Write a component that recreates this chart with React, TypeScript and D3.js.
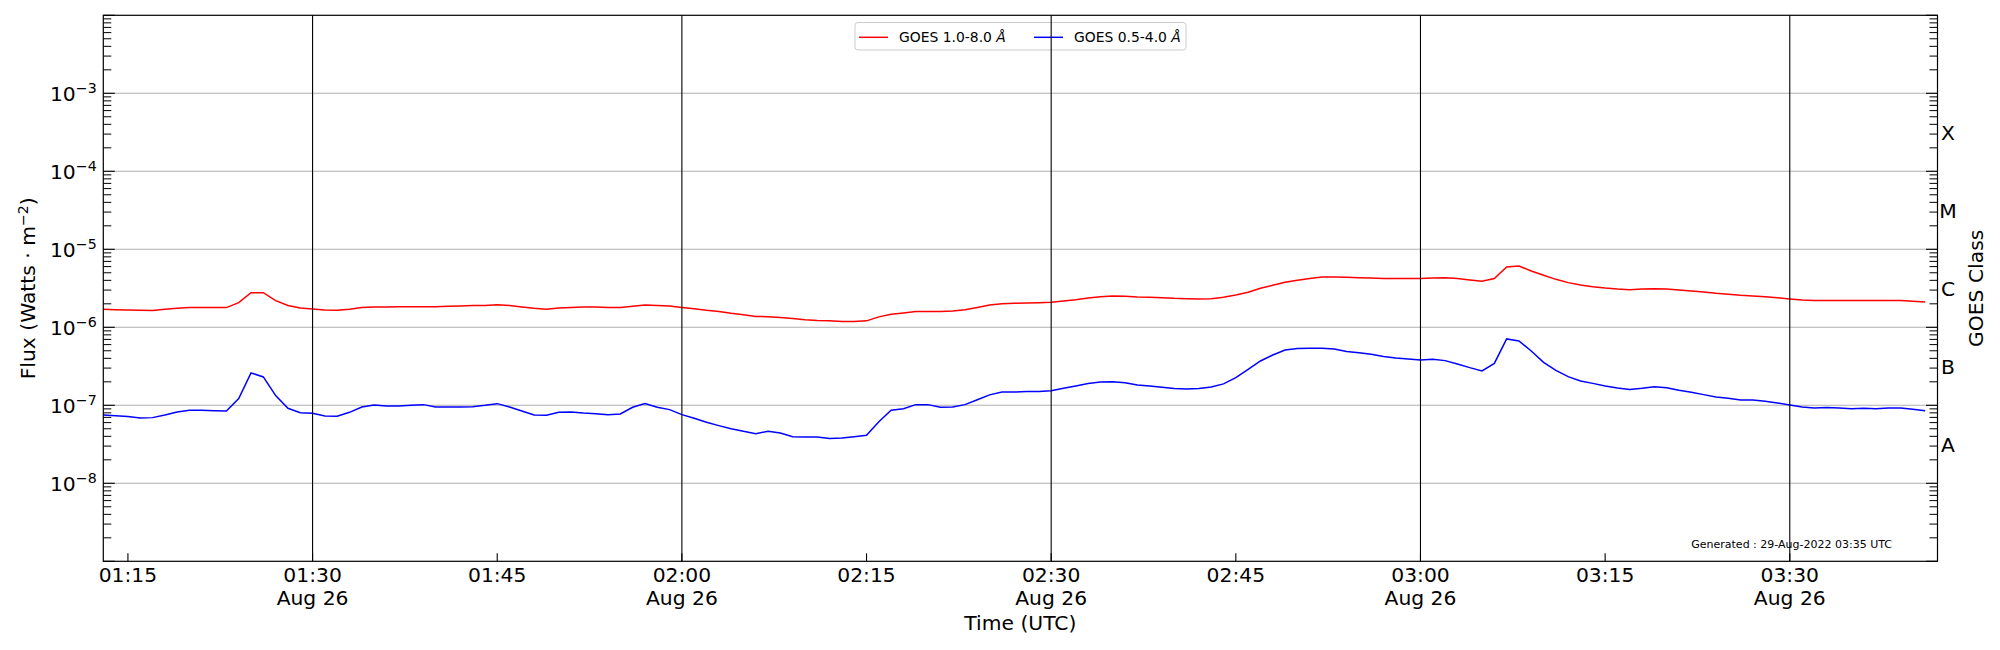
import * as d3 from 'd3';

// GOES XRS flux, 1-minute samples from 01:13 to 03:41 UTC, 26 Aug 2022
const START = Date.UTC(2022, 7, 26, 1, 13);
const X_END = Date.UTC(2022, 7, 26, 3, 42);

// GOES 1.0-8.0 Å (W/m^2)
const xrsLong = [
  1.70e-6, 1.68e-6, 1.67e-6, 1.65e-6, 1.64e-6, 1.70e-6, 1.75e-6, 1.79e-6, 1.79e-6, 1.79e-6,
  1.79e-6, 2.07e-6, 2.78e-6, 2.78e-6, 2.20e-6, 1.90e-6, 1.77e-6, 1.72e-6, 1.67e-6, 1.65e-6,
  1.70e-6, 1.79e-6, 1.82e-6, 1.82e-6, 1.84e-6, 1.84e-6, 1.84e-6, 1.84e-6, 1.86e-6, 1.88e-6,
  1.90e-6, 1.91e-6, 1.95e-6, 1.90e-6, 1.82e-6, 1.75e-6, 1.70e-6, 1.77e-6, 1.80e-6, 1.82e-6,
  1.82e-6, 1.80e-6, 1.79e-6, 1.86e-6, 1.93e-6, 1.91e-6, 1.88e-6, 1.80e-6, 1.73e-6, 1.65e-6,
  1.59e-6, 1.51e-6, 1.45e-6, 1.38e-6, 1.37e-6, 1.34e-6, 1.30e-6, 1.25e-6, 1.22e-6, 1.21e-6,
  1.19e-6, 1.19e-6, 1.21e-6, 1.36e-6, 1.47e-6, 1.53e-6, 1.59e-6, 1.60e-6, 1.60e-6, 1.62e-6,
  1.68e-6, 1.80e-6, 1.93e-6, 2.01e-6, 2.03e-6, 2.05e-6, 2.07e-6, 2.09e-6, 2.18e-6, 2.26e-6,
  2.38e-6, 2.47e-6, 2.52e-6, 2.50e-6, 2.45e-6, 2.43e-6, 2.40e-6, 2.35e-6, 2.33e-6, 2.31e-6,
  2.33e-6, 2.43e-6, 2.60e-6, 2.81e-6, 3.16e-6, 3.45e-6, 3.77e-6, 4.00e-6, 4.21e-6, 4.42e-6,
  4.42e-6, 4.38e-6, 4.33e-6, 4.29e-6, 4.21e-6, 4.21e-6, 4.21e-6, 4.21e-6, 4.29e-6, 4.33e-6,
  4.21e-6, 4.04e-6, 3.89e-6, 4.21e-6, 5.94e-6, 6.11e-6, 5.27e-6, 4.64e-6, 4.12e-6, 3.74e-6,
  3.49e-6, 3.32e-6, 3.19e-6, 3.10e-6, 3.04e-6, 3.10e-6, 3.13e-6, 3.10e-6, 3.01e-6, 2.92e-6,
  2.84e-6, 2.73e-6, 2.65e-6, 2.57e-6, 2.52e-6, 2.47e-6, 2.40e-6, 2.31e-6, 2.24e-6, 2.20e-6,
  2.20e-6, 2.20e-6, 2.20e-6, 2.20e-6, 2.20e-6, 2.20e-6, 2.20e-6, 2.15e-6, 2.11e-6,
];

// GOES 0.5-4.0 Å (W/m^2)
const xrsShort = [
  7.52e-8, 7.37e-8, 7.16e-8, 6.88e-8, 6.95e-8, 7.52e-8, 8.21e-8, 8.63e-8, 8.63e-8, 8.54e-8,
  8.46e-8, 1.22e-7, 2.60e-7, 2.31e-7, 1.33e-7, 9.15e-8, 8.05e-8, 7.90e-8, 7.30e-8, 7.23e-8,
  8.13e-8, 9.52e-8, 1.01e-7, 9.80e-8, 9.80e-8, 1.00e-7, 1.02e-7, 9.52e-8, 9.52e-8, 9.52e-8,
  9.61e-8, 1.00e-7, 1.05e-7, 9.52e-8, 8.46e-8, 7.52e-8, 7.44e-8, 8.13e-8, 8.21e-8, 7.97e-8,
  7.82e-8, 7.59e-8, 7.74e-8, 9.43e-8, 1.05e-7, 9.43e-8, 8.80e-8, 7.59e-8, 6.81e-8, 6.05e-8,
  5.49e-8, 5.02e-8, 4.64e-8, 4.33e-8, 4.64e-8, 4.42e-8, 3.96e-8, 3.93e-8, 3.93e-8, 3.74e-8,
  3.81e-8, 3.96e-8, 4.12e-8, 6.17e-8, 8.63e-8, 9.06e-8, 1.02e-7, 1.02e-7, 9.43e-8, 9.52e-8,
  1.02e-7, 1.18e-7, 1.36e-7, 1.48e-7, 1.48e-7, 1.50e-7, 1.50e-7, 1.54e-7, 1.65e-7, 1.77e-7,
  1.90e-7, 1.99e-7, 2.01e-7, 1.95e-7, 1.82e-7, 1.77e-7, 1.70e-7, 1.64e-7, 1.62e-7, 1.64e-7,
  1.72e-7, 1.88e-7, 2.26e-7, 2.89e-7, 3.70e-7, 4.42e-7, 5.12e-7, 5.33e-7, 5.38e-7, 5.38e-7,
  5.27e-7, 4.88e-7, 4.73e-7, 4.51e-7, 4.21e-7, 4.04e-7, 3.93e-7, 3.81e-7, 3.89e-7, 3.74e-7,
  3.39e-7, 3.04e-7, 2.76e-7, 3.45e-7, 7.09e-7, 6.68e-7, 4.97e-7, 3.56e-7, 2.81e-7, 2.33e-7,
  2.05e-7, 1.91e-7, 1.77e-7, 1.67e-7, 1.60e-7, 1.65e-7, 1.73e-7, 1.68e-7, 1.56e-7, 1.47e-7,
  1.37e-7, 1.28e-7, 1.23e-7, 1.17e-7, 1.17e-7, 1.13e-7, 1.07e-7, 1.01e-7, 9.52e-8, 9.24e-8,
  9.34e-8, 9.24e-8, 9.06e-8, 9.15e-8, 9.06e-8, 9.24e-8, 9.24e-8, 8.89e-8, 8.54e-8,
];

const tickTimes = ['01:15', '01:30', '01:45', '02:00', '02:15', '02:30', '02:45', '03:00', '03:15', '03:30'];
const tickDates = ['', 'Aug 26', '', 'Aug 26', '', 'Aug 26', '', 'Aug 26', '', 'Aug 26'];

const decadeExps = [-9, -8, -7, -6, -5, -4, -3, -2];
const labelExps = [-8, -7, -6, -5, -4, -3];

const classLabels = ['A', 'B', 'C', 'M', 'X'];
const classCenters = [3.16e-8, 3.16e-7, 3.16e-6, 3.16e-5, 3.16e-4];

const seriesNames = ['GOES 1.0-8.0 ', 'GOES 0.5-4.0 '];
const seriesColors = ['#ff0000', '#0000ff'];

const W = 2000;
const H = 650;
const L = 103.3;
const R = 1937.5;
const T = 15.3;
const B = 561.3;
const FONT = '"DejaVu Sans", sans-serif';

export default function App() {
  const x = d3.scaleUtc().domain([new Date(START), new Date(X_END)]).range([L, R]);
  const y = d3.scaleLog().domain([1e-9, 1e-2]).range([B, T]);

  const times = xrsLong.map((_, i) => new Date(START + i * 60000));
  const line = d3
    .line<number>()
    .x((_, i) => x(times[i]))
    .y((d) => y(d));

  const tickDatesUtc = tickTimes.map((t) => {
    const [h, m] = t.split(':').map(Number);
    return new Date(Date.UTC(2022, 7, 26, h, m));
  });

  const minor: number[] = [];
  decadeExps.slice(0, -1).forEach((k) => {
    for (let m = 2; m <= 9; m++) minor.push(m * Math.pow(10, k));
  });

  const legendX = 855;
  const legendY = 22.5;

  return (
    <svg
      width={W}
      height={H}
      style={{ position: 'absolute', left: 0, top: 0, background: '#fff' }}
      fontFamily={FONT}
    >
      <rect x={0} y={0} width={W} height={H} fill="#fff" />

      {/* horizontal grid at decades */}
      {labelExps.map((k) => (
        <line key={k} x1={L} x2={R} y1={y(Math.pow(10, k))} y2={y(Math.pow(10, k))} stroke="#b0b0b0" strokeWidth={1.1} />
      ))}

      {/* flux curves */}
      <path d={line(xrsLong) || ''} fill="none" stroke={seriesColors[0]} strokeWidth={1.5} />
      <path d={line(xrsShort) || ''} fill="none" stroke={seriesColors[1]} strokeWidth={1.5} />

      {/* legend */}
      <g fontSize={13.9}>
        <rect x={legendX} y={legendY} width={331} height={27.5} rx={3} fill="#fff" fillOpacity={0.8} stroke="#cccccc" strokeWidth={1} />
        {seriesNames.map((name, i) => {
          const ox = legendX + i * 175;
          return (
            <g key={name}>
              <line x1={ox + 4} x2={ox + 33} y1={legendY + 14.8} y2={legendY + 14.8} stroke={seriesColors[i]} strokeWidth={1.5} />
              <text x={ox + 44} y={legendY + 19.8} fill="#000">
                {name}
                <tspan fontStyle="italic">Å</tspan>
              </text>
            </g>
          );
        })}
      </g>

      {/* vertical lines at half hours */}
      {tickDatesUtc.map((d, i) =>
        tickDates[i] ? <line key={i} x1={x(d)} x2={x(d)} y1={T} y2={B} stroke="#000" strokeWidth={1.1} /> : null
      )}

      {/* left and right ticks */}
      {decadeExps.map((k) => {
        const yy = y(Math.pow(10, k));
        return (
          <g key={k} stroke="#000" strokeWidth={1.1}>
            <line x1={L} x2={L + 11.5} y1={yy} y2={yy} />
            <line x1={R} x2={R - 11.5} y1={yy} y2={yy} />
          </g>
        );
      })}
      {minor.map((v, i) => (
        <g key={i} stroke="#000" strokeWidth={1}>
          <line x1={L} x2={L + 8} y1={y(v)} y2={y(v)} />
          <line x1={R} x2={R - 8} y1={y(v)} y2={y(v)} />
        </g>
      ))}

      {/* bottom ticks */}
      {tickDatesUtc.map((d, i) => (
        <line key={i} x1={x(d)} x2={x(d)} y1={B} y2={B - 8} stroke="#000" strokeWidth={1.1} />
      ))}

      <rect x={L} y={T} width={R - L} height={B - T} fill="none" stroke="#000" strokeWidth={1.2} />

      {/* y tick labels */}
      {labelExps.map((k) => (
        <text key={k} x={96.7} y={y(Math.pow(10, k)) + 7.3} textAnchor="end" fontSize={20.3} fill="#000">
          10
          <tspan dy={-7.5} fontSize={14.2}>
            {'\u2212' + Math.abs(k)}
          </tspan>
        </text>
      ))}

      {/* x tick labels */}
      {tickDatesUtc.map((d, i) => (
        <text key={i} x={x(d)} textAnchor="middle" fontSize={20.3} fill="#000">
          <tspan x={x(d)} y={581.5}>
            {tickTimes[i]}
          </tspan>
          {tickDates[i] ? (
            <tspan x={x(d)} y={605}>
              {tickDates[i]}
            </tspan>
          ) : null}
        </text>
      ))}

      {/* GOES class labels */}
      {classLabels.map((c, i) => (
        <text key={c} x={1948} y={y(classCenters[i]) + 7.3} textAnchor="middle" fontSize={20.3} fill="#000">
          {c}
        </text>
      ))}

      <text x={(L + R) / 2} y={630} textAnchor="middle" fontSize={20.3} fill="#000">
        Time (UTC)
      </text>

      <text transform={`translate(35,${(T + B) / 2}) rotate(-90)`} textAnchor="middle" fontSize={20.3} fill="#000">
        Flux (Watts · m
        <tspan dy={-7.5} fontSize={14.2}>
          {'\u22122'}
        </tspan>
        <tspan dy={7.5}>)</tspan>
      </text>

      <text transform={`translate(1983,${(T + B) / 2}) rotate(-90)`} textAnchor="middle" fontSize={20.3} fill="#000">
        GOES Class
      </text>

      <text x={1892} y={548} textAnchor="end" fontSize={11} fill="#000">
        Generated : 29-Aug-2022 03:35 UTC
      </text>
    </svg>
  );
}
